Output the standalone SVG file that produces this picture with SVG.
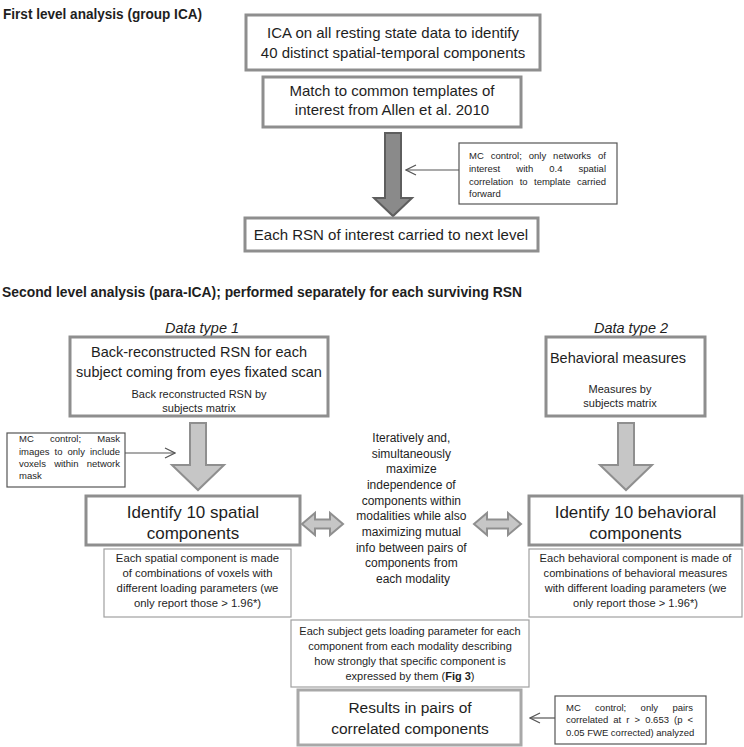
<svg xmlns="http://www.w3.org/2000/svg" width="744" height="747" viewBox="0 0 744 747">
<defs>
<style>
text{font-family:"Liberation Sans",Arial,sans-serif;fill:#1e1e1e}
.ttl{font-weight:bold;font-size:14px}
.m{text-anchor:middle}
.e{text-anchor:end}
.box{fill:#fff;stroke:#8e8e8e;stroke-width:3}
.thin{fill:#fff;stroke:#a0a0a0;stroke-width:1.2}
.note{fill:#fff;stroke:#555;stroke-width:1.2}
.nt{font-size:9.5px}
.dark{fill:#8a8a8a;stroke:#5e5e5e;stroke-width:2}
.light{fill:#c6c6c6;stroke:#8f8f8f;stroke-width:2}
.con{stroke:#555;stroke-width:1.2;fill:none}
</style>
<marker id="open" markerUnits="userSpaceOnUse" markerWidth="12" markerHeight="12" viewBox="0 0 12 12" refX="11" refY="6" orient="auto"><path d="M1,1 L11,6 L1,11" fill="none" stroke="#555" stroke-width="1.2"/></marker>
</defs>
<rect width="744" height="747" fill="#fff"/>

<g id="titles">
<text class="ttl" x="3" y="19" textLength="199" lengthAdjust="spacingAndGlyphs">First level analysis (group ICA)</text>
<text class="ttl" x="2" y="297" textLength="520" lengthAdjust="spacingAndGlyphs">Second level analysis (para-ICA); performed separately for each surviving RSN</text>
<text x="202" y="333" class="m" font-style="italic" font-size="14.5">Data type 1</text>
<text x="631" y="333" class="m" font-style="italic" font-size="14.5">Data type 2</text>
</g>

<g id="connectors">
<polygon class="dark" points="385,133 401,133 401,198 412,198 393,216 374,198 385,198"/>
<polygon class="light" points="190,423 206,423 206,465 224,465 198,490 172,465 190,465"/>
<polygon class="light" points="618,423 634,423 634,465 652,465 626,490 600,465 618,465"/>
<polygon class="light" points="302,524 315,513 315,519.5 330,519.5 330,513 343,524 330,535 330,528.5 315,528.5 315,535"/>
<polygon class="light" points="474,524 487,513 487,519.5 508,519.5 508,513 521,524 508,535 508,528.5 487,528.5 487,535"/>
<line class="con" x1="459" y1="170" x2="406" y2="170" marker-end="url(#open)"/>
<line class="con" x1="125" y1="453" x2="175" y2="453" marker-end="url(#open)"/>
<line class="con" x1="555" y1="718" x2="530" y2="718" marker-end="url(#open)"/>
</g>

<g id="ica">
<rect class="box" x="246" y="15" width="294" height="55"/>
<text class="m" x="393" y="38" font-size="15">ICA on all resting state data to identify</text>
<text class="m" x="393" y="58" font-size="15">40 distinct spatial-temporal components</text>
</g>

<g id="match">
<rect class="box" x="263" y="77" width="258" height="50"/>
<text class="m" x="392" y="96" font-size="15">Match to common templates of</text>
<text class="m" x="392" y="115" font-size="15">interest from Allen et al. 2010</text>
</g>

<g id="note1">
<rect class="note" x="459" y="143" width="158" height="61"/>
<text class="nt" y="159"><tspan x="469">MC</tspan><tspan x="490.7">control;</tspan><tspan x="528.8">only</tspan><tspan x="553.1">networks</tspan><tspan x="606" class="e">of</tspan></text>
<text class="nt" y="172"><tspan x="469">interest</tspan><tspan x="516.3">with</tspan><tspan x="549.3">0.4</tspan><tspan x="606" class="e">spatial</tspan></text>
<text class="nt" y="185"><tspan x="469">correlation</tspan><tspan x="519.7">to</tspan><tspan x="534">template</tspan><tspan x="606" class="e">carried</tspan></text>
<text class="nt" x="469" y="197">forward</text>
</g>

<g id="rsn">
<rect class="box" x="245" y="218" width="293" height="33"/>
<text class="m" x="391" y="240" font-size="15">Each RSN of interest carried to next level</text>
</g>

<g id="backrec">
<rect class="box" x="70" y="337" width="258" height="79"/>
<text class="m" x="199" y="357" font-size="14.5">Back-reconstructed RSN for each</text>
<text class="m" x="199" y="377" font-size="14.5">subject coming  from eyes fixated scan</text>
<text class="m" x="199" y="398" font-size="11">Back reconstructed RSN by</text>
<text class="m" x="199" y="412" font-size="11">subjects matrix</text>
</g>

<g id="behav">
<rect class="box" x="546" y="337" width="159" height="79"/>
<text class="m" x="618" y="363" font-size="14.5">Behavioral measures</text>
<text class="m" x="620" y="393" font-size="11">Measures by</text>
<text class="m" x="620" y="407" font-size="11">subjects matrix</text>
</g>

<g id="note2">
<rect class="note" x="7" y="433" width="118" height="54"/>
<text class="nt" y="442"><tspan x="19">MC</tspan><tspan x="49.95">control;</tspan><tspan x="120" class="e">Mask</tspan></text>
<text class="nt" y="455"><tspan x="19">images</tspan><tspan x="54.6">to</tspan><tspan x="67.5">only</tspan><tspan x="120" class="e">include</tspan></text>
<text class="nt" y="467"><tspan x="19">voxels</tspan><tspan x="54.15">within</tspan><tspan x="120" class="e">network</tspan></text>
<text class="nt" x="19" y="479">mask</text>
</g>

<g id="spatial">
<rect class="box" x="86" y="496" width="214" height="49"/>
<text class="m" x="193" y="518" font-size="17">Identify 10 spatial</text>
<text class="m" x="193" y="539" font-size="17">components</text>
</g>

<g id="spatialnote">
<rect class="thin" x="104" y="549" width="187" height="68"/>
<text class="m" x="197.5" y="562" font-size="11.3">Each spatial component is made</text>
<text class="m" x="197.5" y="577" font-size="11.3">of combinations of voxels with</text>
<text class="m" x="197.5" y="592" font-size="11.3">different loading parameters (we</text>
<text class="m" x="197.5" y="607" font-size="11.3">only report those &gt; 1.96*)</text>
</g>

<g id="center">
<text class="m" x="413" font-size="12">
<tspan x="413" y="442">Iteratively and,</tspan>
<tspan x="413" y="457.7">simultaneously</tspan>
<tspan x="413" y="473.3">maximize</tspan>
<tspan x="413" y="489">independence of</tspan>
<tspan x="413" y="504.7">components within</tspan>
<tspan x="413" y="520.3">modalities while also</tspan>
<tspan x="413" y="536">maximizing mutual</tspan>
<tspan x="413" y="551.7">info between pairs of</tspan>
<tspan x="413" y="567.3">components from</tspan>
<tspan x="413" y="583">each modality</tspan>
</text>
</g>

<g id="behavioral">
<rect class="box" x="529" y="496" width="213" height="49"/>
<text class="m" x="635.5" y="518" font-size="17">Identify 10 behavioral</text>
<text class="m" x="635.5" y="539" font-size="17">components</text>
</g>

<g id="behavnote">
<rect class="thin" x="529" y="549" width="213" height="68"/>
<text class="m" x="635.5" y="562" font-size="11.1">Each behavioral component is made of</text>
<text class="m" x="635.5" y="577" font-size="11.1">combinations of behavioral measures</text>
<text class="m" x="635.5" y="592" font-size="11.1">with different loading parameters (we</text>
<text class="m" x="635.5" y="607" font-size="11.1">only report those &gt; 1.96*)</text>
</g>

<g id="loading">
<rect class="thin" x="291" y="620" width="238" height="67"/>
<text class="m" x="410" y="635" font-size="11">Each subject gets loading parameter for each</text>
<text class="m" x="410" y="650" font-size="11">component from each modality describing</text>
<text class="m" x="410" y="665" font-size="11">how strongly that specific component is</text>
<text class="m" x="410" y="680" font-size="11">expressed by them (<tspan font-weight="bold">Fig 3</tspan>)</text>
</g>

<g id="results">
<rect class="box" x="298" y="690" width="223" height="55" style="stroke:#a8a8a8"/>
<text class="m" x="410" y="713" font-size="15.5">Results in pairs of</text>
<text class="m" x="410" y="734" font-size="15.5">correlated components</text>
</g>

<g id="note3">
<rect class="note" x="555" y="696" width="151" height="48"/>
<text class="nt" y="711"><tspan x="566">MC</tspan><tspan x="595.1">control;</tspan><tspan x="640.6">only</tspan><tspan x="693" class="e">pairs</tspan></text>
<text class="nt" y="723"><tspan x="566">correlated</tspan><tspan x="613.3">at</tspan><tspan x="626.3">r</tspan><tspan x="634.6">&gt;</tspan><tspan x="645.2">0.653</tspan><tspan x="674.1">(p</tspan><tspan x="693" class="e">&lt;</tspan></text>
<text class="nt" x="566" y="736">0.05 FWE corrected) analyzed</text>
</g>
</svg>
